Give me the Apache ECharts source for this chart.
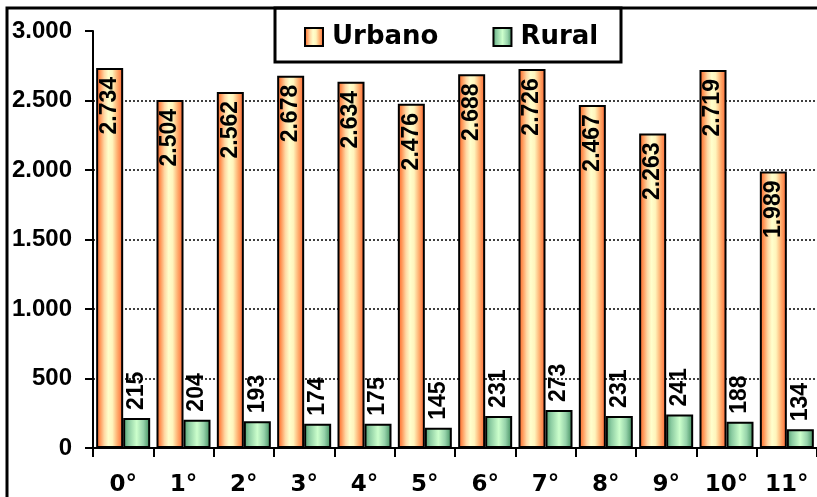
<!DOCTYPE html>
<html>
<head>
<meta charset="utf-8">
<script src="https://cdn.jsdelivr.net/npm/echarts@6/dist/echarts.min.js"></script>
<style>
html,body{margin:0;padding:0;background:#fff;}
#chart{width:817px;height:497px;}
</style>
</head>
<body>
<div id="chart"></div>
<script>
const categories = ['0°','1°','2°','3°','4°','5°','6°','7°','8°','9°','10°','11°'];
const urbano = [2734, 2504, 2562, 2678, 2634, 2476, 2688, 2726, 2467, 2263, 2719, 1989];
const rural = [215, 204, 193, 174, 175, 145, 231, 273, 231, 241, 188, 134];
const seriesNames = ['Urbano', 'Rural'];

function fmt(v) {
  return String(v).replace(/\B(?=(\d{3})+(?!\d))/g, '.');
}

const orangeGrad = new echarts.graphic.LinearGradient(0, 0, 1, 0, [
  {offset: 0, color: '#FF6A30'},
  {offset: 0.12, color: '#FF8A4A'},
  {offset: 0.3, color: '#FFD8A4'},
  {offset: 0.45, color: '#FFFFCC'},
  {offset: 0.6, color: '#FFF4BC'},
  {offset: 0.8, color: '#FFA868'},
  {offset: 1, color: '#FF6030'}
]);
const greenGrad = new echarts.graphic.LinearGradient(0, 0, 1, 0, [
  {offset: 0, color: '#4E9E6E'},
  {offset: 0.2, color: '#8CCCA2'},
  {offset: 0.5, color: '#CCFFCC'},
  {offset: 0.75, color: '#96D2AA'},
  {offset: 1, color: '#3C8A5A'}
]);

const chart = echarts.init(document.getElementById('chart'), null, {renderer: 'canvas'});
chart.setOption({
  backgroundColor: '#ffffff',
  animation: false,
  grid: {left: 93, top: 31, right: -12, bottom: 49, containLabel: false},
  legend: {
    left: 304, top: 24, padding: 0,
    itemWidth: 18, itemHeight: 18, itemGap: 54,
    icon: 'rect',
    data: seriesNames,
    textStyle: {fontFamily: 'DejaVu Sans', fontWeight: 'bold', fontSize: 26, color: '#000', padding: [0, 0, 0, 4]}
  },
  graphic: [
    {type: 'polyline', shape: {points: [[7, 497], [7, 8], [817, 8]]}, style: {stroke: '#000', lineWidth: 3, fill: null}, z: 10},
    {type: 'rect', shape: {x: 275, y: 8, width: 346, height: 54}, style: {stroke: '#000', lineWidth: 3, fill: null}, z: 10}
  ],
  xAxis: {
    type: 'category',
    data: categories,
    axisLine: {lineStyle: {color: '#000', width: 2}},
    axisTick: {show: true, length: 9, lineStyle: {color: '#000', width: 2}},
    axisLabel: {fontFamily: 'DejaVu Sans', fontWeight: 'bold', fontSize: 23, color: '#000', margin: 26}
  },
  yAxis: {
    type: 'value',
    min: 0, max: 3000, interval: 500,
    axisLine: {show: true, lineStyle: {color: '#000', width: 2}},
    axisTick: {show: true, length: 8, lineStyle: {color: '#000', width: 2}},
    axisLabel: {fontFamily: 'Liberation Sans', fontWeight: 'bold', fontSize: 24, color: '#000', margin: 21, formatter: fmt},
    splitLine: {show: true, showMaxLine: false, showMinLine: false, lineStyle: {color: '#000', width: 1.5, type: [2, 2]}}
  },
  series: [
    {
      name: seriesNames[0], type: 'bar', data: urbano,
      barWidth: 27, barGap: '0%',
      itemStyle: {color: orangeGrad, borderColor: '#000', borderWidth: 2},
      label: {
        show: true, position: 'insideTop', rotate: 90, distance: 9,
        align: 'right', verticalAlign: 'middle',
        fontFamily: 'Liberation Sans', fontWeight: 'bold', fontSize: 23, color: '#000',
        formatter: p => fmt(p.value)
      }
    },
    {
      name: seriesNames[1], type: 'bar', data: rural,
      barWidth: 27, barGap: '0%',
      itemStyle: {color: greenGrad, borderColor: '#000', borderWidth: 2},
      label: {
        show: true, position: 'top', rotate: 90, distance: 8,
        align: 'left', verticalAlign: 'middle',
        fontFamily: 'Liberation Sans', fontWeight: 'bold', fontSize: 23, color: '#000',
        formatter: p => fmt(p.value)
      }
    }
  ]
});
</script>
</body>
</html>
